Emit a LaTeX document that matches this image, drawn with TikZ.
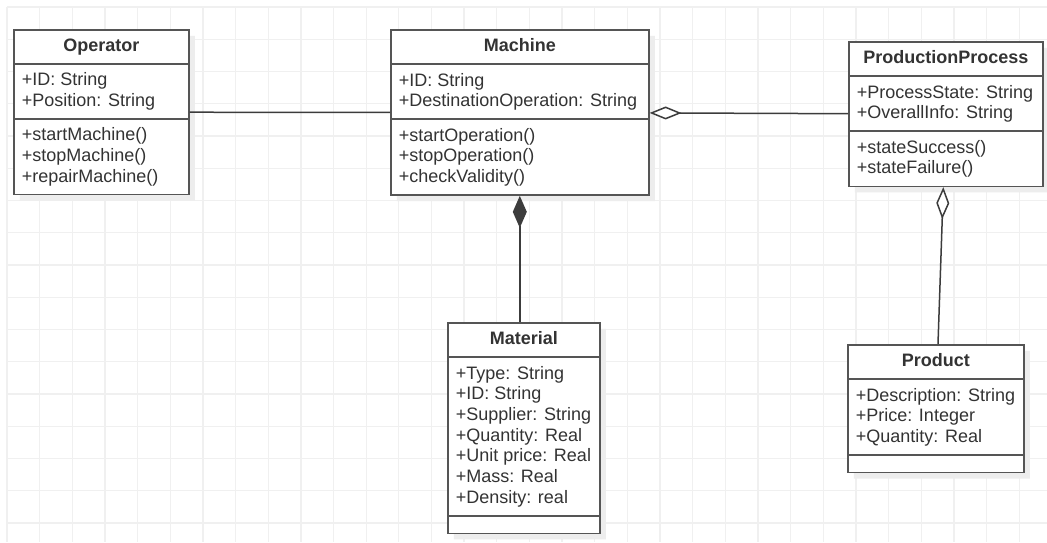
\documentclass[tikz,border=0pt]{standalone}
\usepackage{fontspec}
\setmainfont{Liberation Sans}
\usetikzlibrary{arrows.meta,shapes.multipart,shadows}

\definecolor{gridgray}{HTML}{F0F0F0}
\definecolor{umlborder}{HTML}{555555}
\definecolor{umltext}{HTML}{333333}
\definecolor{linkgray}{HTML}{3C3C3C}
% class name in the top compartment, same depth with or without descenders
\newcommand{\umlname}[1]{\textbf{#1}\vphantom{p}}
% empty operations compartment (keeps it flat)
\newcommand{\noops}{\hspace*{0.1pt}}

\begin{document}
\begin{tikzpicture}[
  x=1pt, y=-1pt, >=Latex,
  gridline/.style={draw=gridgray, line width=1.3pt},
  umlclass/.style={rectangle split, rectangle split parts=3,
    rectangle split part align={center,left,left},
    draw=umlborder, line width=1.6pt, fill=white, text=umltext,
    drop shadow={shadow xshift=6pt, shadow yshift=-6pt, fill=black!7, opacity=1},
    inner xsep=8pt, inner ysep=8pt, align=left, anchor=north west,
    font=\fontsize{18}{20.7}\selectfont},
  link/.style={draw=linkgray, line width=1.5pt},
  shared/.style={link, {Diamond[fill=white, length=32pt, width=13pt]}-},
  owned/.style={link, {Diamond[length=32pt, width=14pt]}-},
]
  \useasboundingbox (0,0) rectangle (1047,542);
  \fill[white] (0,0) rectangle (1047,542);
  % background grid
  \foreach \gx in {0,...,31}
    \draw[gridline] ({7+32.65*\gx},7) -- ({7+32.65*\gx},542);
  \foreach \gy in {0,...,16}
    \draw[gridline] (7,{7+32.25*\gy}) -- (1047,{7+32.25*\gy});

  % classes
  \node[umlclass, minimum width=175pt] (operator) at (13,29)
    {\umlname{Operator}
     \nodepart{two}+ID: String\\+Position: String
     \nodepart{three}+startMachine()\\+stopMachine()\\+repairMachine()};
  \node[umlclass, minimum width=258pt] (machine) at (390,29)
    {\umlname{Machine}
     \nodepart{two}+ID: String\\+DestinationOperation: String
     \nodepart{three}+startOperation()\\+stopOperation()\\+checkValidity()};
  \node[umlclass, minimum width=194pt] (process) at (848,41)
    {\umlname{ProductionProcess}
     \nodepart{two}+ProcessState: String\\+OverallInfo: String
     \nodepart{three}+stateSuccess()\\+stateFailure()};
  \node[umlclass, minimum width=152pt] (material) at (447,322)
    {\umlname{Material}
     \nodepart{two}+Type: String\\+ID: String\\+Supplier: String\\+Quantity: Real\\+Unit price: Real\\+Mass: Real\\+Density: real
     \nodepart{three}\noops};
  \node[umlclass, minimum width=176pt] (product) at (847,344)
    {\umlname{Product}
     \nodepart{two}+Description: String\\+Price: Integer\\+Quantity: Real
     \nodepart{three}\noops};

  % relations
  \draw[link] (operator) -- (machine);
  \draw[shared] (machine) -- (process);
  \draw[owned] (machine.south) -- (machine.south |- material.north);
  \draw[shared] (process) -- (product);
\end{tikzpicture}
\end{document}
